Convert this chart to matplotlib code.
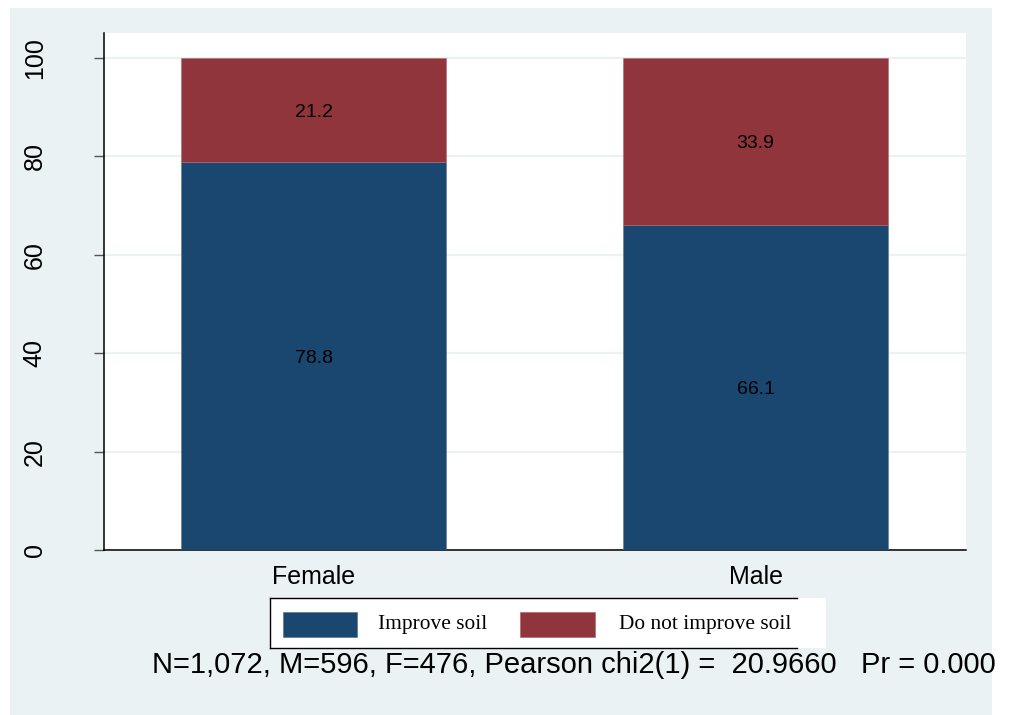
import matplotlib
matplotlib.use("Agg")
import matplotlib.pyplot as plt
from matplotlib.patches import Rectangle
from matplotlib.lines import Line2D

# Data
categories = ["Female", "Male"]
improve = [78.8, 66.1]
not_improve = [21.2, 33.9]
series_names = ["Improve soil", "Do not improve soil"]
yticks = [0, 20, 40, 60, 80, 100]
note = "N=1,072, M=596, F=476, Pearson chi2(1) =  20.9660   Pr = 0.000"

BLUE = "#1A476F"
RED = "#90353B"
BG = "#EAF2F3"

W, H = 1025, 715
fig = plt.figure(figsize=(W / 100, H / 100), dpi=100, facecolor="white")

def fx(px):
    return px / W

def fy(py):
    return 1 - py / H

# outer graph region panel
fig.patches.append(Rectangle((fx(10), fy(715)), fx(992) - fx(10), fy(8) - fy(715),
                             transform=fig.transFigure, facecolor=BG, edgecolor="none", zorder=0))

ax = fig.add_axes([fx(104), fy(550), fx(966) - fx(104), fy(33) - fy(550)])
ax.set_facecolor("white")
ax.set_zorder(1)

x = list(range(len(categories)))
b1 = ax.bar(x, improve, width=0.6, color=BLUE, edgecolor="#5a7896", linewidth=0.4, zorder=3)
b2 = ax.bar(x, not_improve, bottom=improve, width=0.6, color=RED, edgecolor="#b06a70",
            linewidth=0.4, zorder=3)

for xi, a, b in zip(x, improve, not_improve):
    ax.text(xi, a / 2, f"{a:.1f}", ha="center", va="center_baseline", fontsize=14,
            family="Liberation Sans", color="black", zorder=4)
    ax.text(xi, a + b / 2, f"{b:.1f}", ha="center", va="center_baseline", fontsize=14,
            family="Liberation Sans", color="black", zorder=4)

ax.set_xlim(-0.474, 1.476)
ax.set_ylim(0, 105.1)
ax.set_yticks(yticks)
ax.set_yticklabels([str(t) for t in yticks], rotation=90, va="center",
                   fontsize=18, family="Liberation Sans")
ax.set_xticks(x)
ax.set_xticklabels(categories, fontsize=18, family="Liberation Sans")
ax.tick_params(axis="y", length=7.2, width=1.0, color="#555555", pad=34)
ax.tick_params(axis="x", length=0, pad=11)
ax.yaxis.grid(True, color=BG, linewidth=1.6, zorder=0)
ax.set_axisbelow(True)
for s in ["top", "right"]:
    ax.spines[s].set_visible(False)
for s in ["left", "bottom"]:
    ax.spines[s].set_color("black")
    ax.spines[s].set_linewidth(1.1)

# legend box (manual)
fig.patches.append(Rectangle((fx(270), fy(648)), fx(826) - fx(270), fy(598) - fy(648),
                             transform=fig.transFigure, facecolor="white", edgecolor="none", zorder=2))
for (x0, y0, x1, y1) in [(270, 598, 797, 598), (270, 648, 797, 648), (270, 598, 270, 648)]:
    fig.lines.append(Line2D([fx(x0), fx(x1)], [fy(y0), fy(y1)], transform=fig.transFigure,
                            color="black", linewidth=1.0, zorder=3))
handles = [(283, 357, BLUE, "#5a7896", 378), (520, 595, RED, "#b06a70", 619)]
for (hx0, hx1, fc, ec, tx), name in zip(handles, series_names):
    fig.patches.append(Rectangle((fx(hx0), fy(637)), fx(hx1) - fx(hx0), fy(612) - fy(637),
                                 transform=fig.transFigure, facecolor=fc, edgecolor=ec,
                                 linewidth=0.5, zorder=3))
    fig.text(fx(tx), fy(625), name, ha="left", va="center", fontsize=15.4,
             family="Liberation Serif", color="black", zorder=4)

fig.text(fx(152), fy(673), note, ha="left", va="baseline", fontsize=21,
         family="Liberation Sans", color="black")

fig.savefig("out.png", dpi=100, facecolor="white")
